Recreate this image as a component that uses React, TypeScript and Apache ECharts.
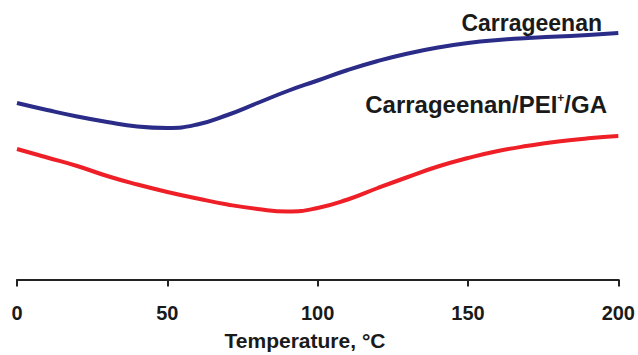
import React, { useEffect, useRef } from "react";
import * as echarts from "echarts";

const temperatures = [0, 10, 20, 30, 40, 50, 60, 70, 80, 90, 100, 110, 120, 130, 140, 150, 160, 170, 180, 190, 200];
const carrageenan = [176.5, 169.5, 163, 157.5, 153, 151.5, 155, 164.5, 176.5, 188.5, 199, 209.5, 218.5, 226, 232, 236.5, 239.5, 241.5, 243, 244.5, 246.5];
const carrageenanPEI = [130.5, 122, 113.5, 103.5, 95, 87.5, 81, 75, 70.5, 68, 71.5, 80, 91.5, 102.5, 113, 121.5, 128.5, 133.7, 138, 141.2, 143.5];
const xTicks = { min: 0, max: 200, interval: 50 };
const seriesNames = ["Carrageenan", "Carrageenan/PEI+/GA"];
const xTitle = "Temperature, °C";

export default function App() {
  const ref = useRef<HTMLDivElement>(null);
  useEffect(() => {
    if (!ref.current) return;
    const chart = echarts.init(ref.current, undefined, { renderer: "svg" });
    const font = "'Liberation Sans', Arial, sans-serif";
    chart.setOption({
      animation: false,
      backgroundColor: "#ffffff",
      grid: { left: 17, right: 17, top: 9.5, bottom: 75.5, containLabel: false },
      xAxis: {
        type: "value",
        min: xTicks.min,
        max: xTicks.max,
        interval: xTicks.interval,
        axisLine: { lineStyle: { color: "#222", width: 2 } },
        axisTick: { show: true, length: 7, lineStyle: { color: "#222", width: 2 } },
        axisLabel: { color: "#1a1a1a", fontSize: 20, fontWeight: "bold", fontFamily: font, margin: 23 },
        splitLine: { show: false },
      },
      yAxis: { type: "value", min: 0, max: 270, show: false, splitLine: { show: false } },
      series: [
        {
          name: seriesNames[0],
          type: "line",
          smooth: 0.5,
          symbol: "none",
          lineStyle: { color: "#2a2c88", width: 4 },
          data: temperatures.map((t, i) => [t, carrageenan[i]]),
        },
        {
          name: seriesNames[1],
          type: "line",
          smooth: 0.5,
          symbol: "none",
          lineStyle: { color: "#ee1f26", width: 4 },
          data: temperatures.map((t, i) => [t, carrageenanPEI[i]]),
        },
      ],
      graphic: [
        {
          type: "text",
          x: 602,
          y: 23,
          style: {
            text: seriesNames[0],
            font: `bold 23px ${font}`,
            fill: "#1a1a1a",
            textAlign: "right",
            textVerticalAlign: "middle",
          },
        },
        {
          type: "text",
          x: 607,
          y: 104,
          style: {
            text: "{a|Carrageenan/PEI}{s|+}{a|/GA}",
            textAlign: "right",
            textVerticalAlign: "middle",
            rich: {
              a: { font: `bold 24px ${font}`, fill: "#1a1a1a", color: "#1a1a1a" },
              s: { font: `bold 12px ${font}`, fill: "#1a1a1a", color: "#1a1a1a", verticalAlign: "top", padding: [0, 0, 12, 0] },
            },
          },
        },
        {
          type: "text",
          x: 305,
          y: 340,
          style: {
            text: xTitle,
            font: `bold 21px ${font}`,
            fill: "#1a1a1a",
            textAlign: "center",
            textVerticalAlign: "middle",
          },
        },
      ],
    });
    return () => chart.dispose();
  }, []);
  return <div ref={ref} style={{ width: 638, height: 355, position: "absolute", left: 0, top: 0 }} />;
}
